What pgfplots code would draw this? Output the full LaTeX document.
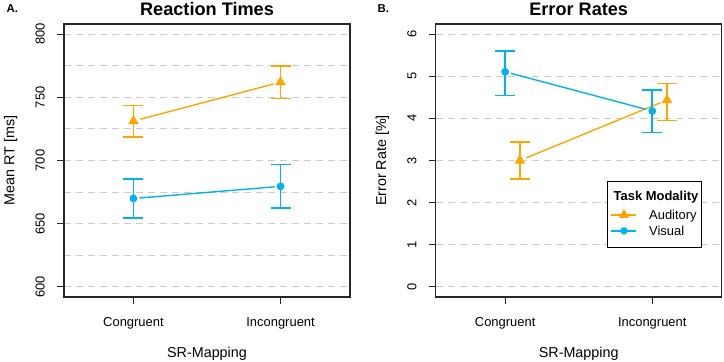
\documentclass[border=0pt]{standalone}
\usepackage{fontspec}
\setmainfont{Liberation Sans}
\usepackage{pgfplots}
\pgfplotsset{compat=1.18}
\definecolor{audC}{RGB}{255,165,0}
\definecolor{visC}{RGB}{0,178,238}
\definecolor{gridC}{RGB}{204,204,204}
\definecolor{axC}{RGB}{40,40,40}

\pgfplotsset{
  myaxis/.style={
    scale only axis, width=286bp, height=273bp,
    xmin=0.528, xmax=2.472,
    xtick={1,2}, xticklabels={Congruent,Incongruent},
    tick pos=left, tick align=outside, major tick length=7bp, minor tick length=0pt,
    axis line style={line width=1.1bp, axC},
    every tick/.style={axC, line width=0.9bp},
    ymajorgrids,
    major grid style={gridC, line width=1bp, dash pattern=on 7bp off 5bp},
    minor grid style={gridC, line width=1bp, dash pattern=on 7bp off 5bp},
    /pgf/number format/assume math mode=true,
    tick label style={font=\fontsize{13}{15}\selectfont},
    yticklabel style={rotate=90, anchor=base, inner sep=0pt},
    yticklabel shift=12.3bp,
    xticklabel style={anchor=base, inner sep=0pt},
    xticklabel shift=22bp,
    label style={font=\fontsize{14.4}{17}\selectfont},
    xlabel style={at={(axis description cs:0.5,0)}, anchor=base, yshift=-60bp},
    ylabel style={at={([xshift=-49.5bp]axis description cs:0,0.5)}, anchor=base},
    title style={font=\bfseries\fontsize{18.2}{21}\selectfont, at={(axis description cs:0.5,1)}, anchor=base, yshift=3bp},
    xlabel={SR-Mapping},
    every error bar/.append style={line width=1.7bp},
  },
  lineA/.style={audC, line width=1.4bp, shorten <=7bp, shorten >=7bp, forget plot},
  lineV/.style={visC, line width=1.4bp, shorten <=6bp, shorten >=6bp, forget plot},
  ptsA/.style={audC, only marks, mark=triangle*, mark size=4.4bp, line width=1.7bp, forget plot,
    error bars/.cd, y dir=both, y explicit,
    error bar style={line width=1.7bp, audC},
    error mark options={rotate=90, mark size=10bp, line width=1.6bp, audC}},
  ptsV/.style={visC, only marks, mark=*, mark size=3bp, line width=1.7bp, forget plot,
    error bars/.cd, y dir=both, y explicit,
    error bar style={line width=1.7bp, visC},
    error mark options={rotate=90, mark size=10bp, line width=1.6bp, visC}},
}

\begin{document}
\begin{tikzpicture}
\useasboundingbox (0,0) rectangle (724bp,362bp);

\begin{axis}[myaxis, at={(64bp,65bp)}, anchor=south west,
  ymin=592, ymax=808, ytick={600,650,...,800},
  minor ytick={625,675,725,775}, yminorgrids,
  ylabel={Mean RT [ms]}, title={Reaction Times}]
\addplot[lineA] coordinates {(1,731.2) (2,762)};
\addplot[lineV] coordinates {(1,669.95) (2,679.55)};
\addplot[ptsA] coordinates {(1,731.2) +- (0,12.4) (2,762) +- (0,12.9)};
\addplot[ptsV] coordinates {(1,669.95) +- (0,15.65) (2,679.55) +- (0,17.15)};
\end{axis}

\begin{axis}[myaxis, at={(435.7bp,65bp)}, anchor=south west,
  ymin=-0.24, ymax=6.24, ytick={0,1,...,6},
  ylabel={Error Rate [\%]}, title={Error Rates},
  legend image code/.code={\draw[mark repeat=2,mark phase=2,#1] plot coordinates {(0bp,4.7bp) (12.5bp,4.7bp) (25bp,4.7bp)};},
  legend style={at={(axis description cs:0.9326,0.4249)}, anchor=north east,
    draw=black, line width=1.1bp, inner xsep=3.5bp, inner ysep=4bp,
    font=\fontsize{13}{15}\selectfont, row sep=0bp,
    nodes={inner sep=0pt, text depth=},
    cells={anchor=base west},
    /tikz/row 1/.style={nodes={text height=14.8bp, text depth=8.2bp}},
    /tikz/row 2/.style={nodes={text height=11bp, text depth=5bp}},
    /tikz/row 3/.style={nodes={text height=11bp, text depth=7.7bp}},
    /tikz/every odd column/.append style={column sep=12bp}}]
\addlegendimage{empty legend}
\addlegendentry{\hspace*{-35.5bp}\textbf{Task Modality}}
\addlegendimage{audC, line width=1.4bp, mark=triangle*, mark size=4.4bp}
\addlegendentry{Auditory}
\addlegendimage{visC, line width=1.4bp, mark=*, mark size=3bp}
\addlegendentry{Visual}
\addplot[lineA] coordinates {(1.1,3.0) (2.1,4.435)};
\addplot[lineV] coordinates {(1,5.106) (2,4.174)};
\addplot[ptsA] coordinates {(1.1,3.0) +- (0,0.446) (2.1,4.435) += (0,0.395) -= (0,0.49)};
\addplot[ptsV] coordinates {(1,5.106) += (0,0.494) -= (0,0.56) (2,4.174) += (0,0.496) -= (0,0.506)};
\end{axis}

\node[anchor=base west, font=\bfseries\fontsize{11.5}{13}\selectfont] at (3bp,349.3bp) {A.};
\node[anchor=base west, font=\bfseries\fontsize{11.5}{13}\selectfont] at (374bp,349.3bp) {B.};
\end{tikzpicture}
\end{document}
